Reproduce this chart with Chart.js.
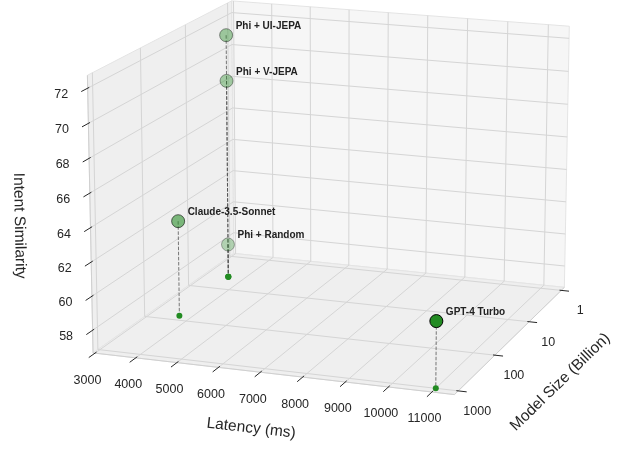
<!DOCTYPE html>
<html>
<head>
<meta charset="utf-8">
<title>Latency vs model size vs intent similarity</title>
<script src="https://cdn.jsdelivr.net/npm/chart.js@4.4.1/dist/chart.umd.min.js"></script>
<style>
  html, body { margin: 0; padding: 0; background: #fff; }
  #wrap { width: 622px; height: 449px; position: relative; }
</style>
</head>
<body>
<div id="wrap"><canvas id="chart3d"></canvas></div>
<script>
// values
var models = ['Phi + UI-JEPA', 'Phi + V-JEPA', 'Phi + Random', 'Claude-3.5-Sonnet', 'GPT-4 Turbo'];
var latencyMs = [3580, 3580, 3580, 3690, 11000];
var modelSizeB = [4.2, 4.2, 4.2, 75, 1000];
var intentSim = [71.7, 68.9, 58.7, 62.4, 60.5];

var latencyTicks = [3000, 4000, 5000, 6000, 7000, 8000, 9000, 10000, 11000];
var sizeTicks = [1, 10, 100, 1000];
var simTicks = [58, 60, 62, 64, 66, 68, 70, 72];

// box limits (size axis is log10, 1 sits at the back)
var xLim = [2952, 11514];
var yLim = [-0.1, 3.1];
var zLim = [56.66, 72.73];

// camera, same maths as a matplotlib 3d axes (persp, dist 10, box 4:4:3)
var ELEV = 15, AZIM = -70, DIST = 10;
var HALF = [0.5714, 0.5714, 0.4286];
var SCALE = 3250, CX = 336.4, CY = 186;

var er = ELEV * Math.PI / 180, ar = AZIM * Math.PI / 180;
var W = [Math.cos(er) * Math.cos(ar), Math.cos(er) * Math.sin(ar), Math.sin(er)];
var U = [-Math.sin(ar), Math.cos(ar), 0];
var V = [-Math.sin(er) * Math.cos(ar), -Math.sin(er) * Math.sin(ar), Math.cos(er)];

function boxProj(sx, sy, sz) {
  var d = [sx * HALF[0], sy * HALF[1], sz * HALF[2]];
  var u = U[0] * d[0] + U[1] * d[1] + U[2] * d[2];
  var v = V[0] * d[0] + V[1] * d[1] + V[2] * d[2];
  var w = W[0] * d[0] + W[1] * d[1] + W[2] * d[2];
  var den = DIST - w;
  return { x: CX + SCALE * u / den, y: CY - SCALE * v / den, depth: DIST / (w - DIST) };
}
function sX(lat) { return -1 + 2 * (lat - xLim[0]) / (xLim[1] - xLim[0]); }
function sY(size) { return -1 + 2 * (yLim[1] - Math.log10(size)) / (yLim[1] - yLim[0]); }
function sZ(val) { return -1 + 2 * (val - zLim[0]) / (zLim[1] - zLim[0]); }
function proj(lat, size, sim) { return boxProj(sX(lat), sY(size), sZ(sim)); }

var TXT = '#262626';
var FONT = '"Liberation Sans", Arial, sans-serif';

// projected marks
var pts = models.map(function (m, i) { return proj(latencyMs[i], modelSizeB[i], intentSim[i]); });
var feet = models.map(function (m, i) { return proj(latencyMs[i], modelSizeB[i], zLim[0]); });

// depth shading like matplotlib: far points fade to alpha 0.3
var depths = pts.map(function (p) { return p.depth; });
var dMin = Math.min.apply(null, depths), dMax = Math.max.apply(null, depths);
var alphas = depths.map(function (d) { return 1 - 0.7 * (d - dMin) / (dMax - dMin); });

// draw far ones first
var order = models.map(function (m, i) { return i; }).sort(function (a, b) { return depths[b] - depths[a]; });

var pointData = order.map(function (i) { return { x: pts[i].x, y: pts[i].y }; });
var fills = order.map(function (i) { return 'rgba(34,139,34,' + alphas[i].toFixed(3) + ')'; });
var edges = order.map(function (i) { return 'rgba(0,0,0,' + alphas[i].toFixed(3) + ')'; });
var footData = feet.map(function (p) { return { x: p.x, y: p.y }; });

var datasets = [
  { label: 'models', data: pointData, pointRadius: 6.5, backgroundColor: fills,
    borderColor: edges, borderWidth: 1, order: 0 },
  { label: 'floor', data: footData, pointRadius: 3, backgroundColor: '#228b22',
    borderWidth: 0, order: 1 }
];
models.forEach(function (m, i) {
  datasets.push({
    label: 'stem ' + m, data: [{ x: pts[i].x, y: pts[i].y }, { x: feet[i].x, y: feet[i].y }],
    showLine: true, pointRadius: 0, borderColor: 'rgba(70,70,70,0.8)', borderWidth: 0.9,
    borderDash: [3.5, 1.6], order: 2
  });
});

var box3d = {
  id: 'box3d',
  beforeDatasetsDraw: function (chart) {
    var ctx = chart.ctx, xs = chart.scales.x, ys = chart.scales.y;
    function P(sx, sy, sz) {
      var p = boxProj(sx, sy, sz);
      return [xs.getPixelForValue(p.x), ys.getPixelForValue(p.y)];
    }
    function poly(list, fill) {
      ctx.beginPath();
      list.forEach(function (q, k) { if (k) ctx.lineTo(q[0], q[1]); else ctx.moveTo(q[0], q[1]); });
      ctx.closePath();
      ctx.fillStyle = fill;
      ctx.fill();
      ctx.strokeStyle = '#e4e4e4';
      ctx.lineWidth = 1;
      ctx.stroke();
    }
    function seg(a, b, color, lw) {
      ctx.beginPath();
      ctx.moveTo(a[0], a[1]);
      ctx.lineTo(b[0], b[1]);
      ctx.strokeStyle = color;
      ctx.lineWidth = lw;
      ctx.stroke();
    }
    function label(txt, at, dx, dy, rot, font) {
      ctx.save();
      ctx.translate(at[0] + dx, at[1] + dy);
      ctx.rotate(rot);
      ctx.font = font;
      ctx.fillStyle = TXT;
      ctx.textAlign = 'center';
      ctx.textBaseline = 'middle';
      ctx.fillText(txt, 0, 0);
      ctx.restore();
    }
    ctx.save();
    // panes
    poly([P(-1, -1, -1), P(-1, 1, -1), P(-1, 1, 1), P(-1, -1, 1)], '#efefef');
    poly([P(-1, 1, -1), P(1, 1, -1), P(1, 1, 1), P(-1, 1, 1)], '#f6f6f6');
    poly([P(-1, -1, -1), P(1, -1, -1), P(1, 1, -1), P(-1, 1, -1)], '#efefef');

    // grid
    var G = '#d5d5d5';
    latencyTicks.forEach(function (t) {
      var s = sX(t);
      seg(P(s, -1, -1), P(s, 1, -1), G, 1);
      seg(P(s, 1, -1), P(s, 1, 1), G, 1);
    });
    sizeTicks.forEach(function (t) {
      var s = sY(t);
      seg(P(-1, s, -1), P(1, s, -1), G, 1);
      seg(P(-1, s, -1), P(-1, s, 1), G, 1);
    });
    simTicks.forEach(function (t) {
      var s = sZ(t);
      seg(P(-1, -1, s), P(-1, 1, s), G, 1);
      seg(P(-1, 1, s), P(1, 1, s), G, 1);
    });

    // axis lines
    var A = '#cfcfcf';
    seg(P(-1, -1, -1), P(1, -1, -1), A, 1);
    seg(P(1, -1, -1), P(1, 1, -1), A, 1);
    seg(P(-1, -1, -1), P(-1, -1, 1), A, 1);

    // ticks and tick labels
    var tickFont = '12.5px ' + FONT;
    latencyTicks.forEach(function (t) {
      var s = sX(t);
      seg(P(s, -0.98, -1), P(s, -1.08, -1), TXT, 1);
      label(String(t), P(s, -1, -1), -7.5, 27, 0, tickFont);
    });
    sizeTicks.forEach(function (t) {
      var s = sY(t);
      seg(P(0.99, s, -1), P(1.045, s, -1), TXT, 1);
      label(String(t), P(1, s, -1), 19, 20.5, 0, tickFont);
    });
    simTicks.forEach(function (t) {
      var s = sZ(t);
      seg(P(-1, -0.98, s), P(-1, -1.08, s), TXT, 1);
      label(String(t), P(-1, -1, s), -26.5, 6.5, 0, tickFont);
    });

    // axis titles, turned along their edges
    var axFont = '15.5px ' + FONT;
    var x0 = P(-1, -1, -1), x1 = P(1, -1, -1);
    label('Latency (ms)', P(0, -1, -1), -19, 55, Math.atan2(x1[1] - x0[1], x1[0] - x0[0]), axFont);
    var y0 = P(1, -1, -1), y1 = P(1, 1, -1);
    label('Model Size (Billion)', P(1, 0, -1), 48, 44, Math.atan2(y1[1] - y0[1], y1[0] - y0[0]), axFont);
    var z0 = P(-1, -1, 1), z1 = P(-1, -1, -1);
    label('Intent Similarity', P(-1, -1, 0), -71, 10, Math.atan2(z1[1] - z0[1], z1[0] - z0[0]), axFont);
    ctx.restore();
  }
};

var pointLabels = {
  id: 'pointLabels',
  afterDatasetsDraw: function (chart) {
    var ctx = chart.ctx;
    var meta = chart.getDatasetMeta(0);
    ctx.save();
    ctx.font = 'bold 10px ' + FONT;
    ctx.fillStyle = '#222';
    ctx.textAlign = 'left';
    ctx.textBaseline = 'middle';
    meta.data.forEach(function (el, k) {
      ctx.fillText(models[order[k]], el.x + 9.5, el.y - 9);
    });
    ctx.restore();
  }
};

new Chart(document.getElementById('chart3d').getContext('2d'), {
  type: 'scatter',
  data: { datasets: datasets },
  options: {
    responsive: true,
    maintainAspectRatio: false,
    animation: false,
    events: [],
    layout: { padding: 0, autoPadding: false },
    plugins: { legend: { display: false }, tooltip: { enabled: false } },
    scales: {
      x: { type: 'linear', min: 0, max: 622, display: false },
      y: { type: 'linear', min: 0, max: 449, reverse: true, display: false }
    }
  },
  plugins: [box3d, pointLabels]
});
</script>
</body>
</html>
